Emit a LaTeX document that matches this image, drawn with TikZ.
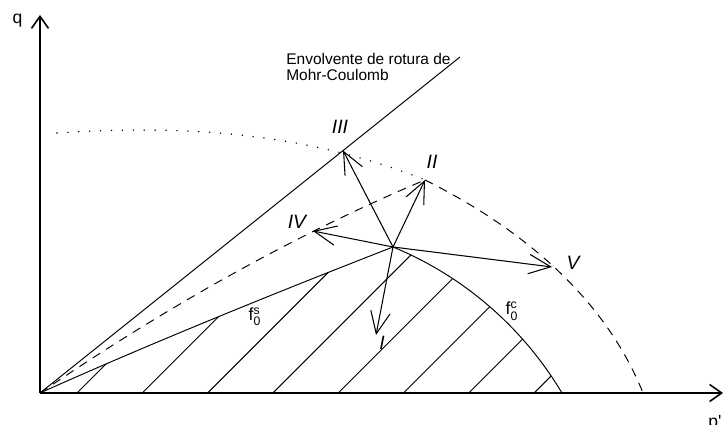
\documentclass[tikz,border=0pt]{standalone}
\usepackage{amsmath}
\usepackage{fontspec}
\setmainfont{Liberation Sans}
\usepackage{tikz}
\usetikzlibrary{arrows.meta, positioning}

\begin{document}
\begin{tikzpicture}[
    axis/.style={-{Straight Barb[length=2.4mm, width=3.4mm]}, line width=0.9pt},
    vec/.style={-{Straight Barb[length=4.4mm, width=3.9mm]}, line width=0.6pt},
    curve/.style={line width=0.55pt},
    dashline/.style={line width=0.55pt, dash pattern=on 5pt off 4pt},
    dotline/.style={line width=0.9pt, line cap=round, dash pattern=on 0.01pt off 6.2pt},
    num/.style={font=\fontsize{11}{12}\selectfont\itshape, inner sep=0pt},
    fname/.style={font=\fontsize{10}{11}\selectfont, inner sep=0pt},
]
\useasboundingbox (-0.8,-0.64) rectangle (13.76,7.86);

\coordinate (O) at (0,0);
\coordinate (qend) at (0,7.56);
\coordinate (pend) at (13.66,0);
\coordinate (mc) at (8.4,6.72);
\coordinate (C) at (7.06,2.92);
\coordinate (tI) at (6.72,1.16);
\coordinate (tII) at (7.70,4.26);
\coordinate (tIII) at (6.06,4.85);
\coordinate (tIV) at (5.46,3.24);
\coordinate (tV) at (10.24,2.52);
\coordinate (dotstart) at (0.34,5.20);
\coordinate (capend) at (12.06,0);

% hatched elastic region
\begin{scope}
\clip (O) .. controls (1.85,0.83) and (4.21,1.81) .. (C)
    arc[start angle=67.57, end angle=30.77, radius=7.075] -- cycle;
\foreach \k in {0,...,7}
    \draw[curve] (0.74+1.306*\k,0) -- ++(7,7);
\end{scope}

\draw[curve] (O) .. controls (1.85,0.83) and (4.21,1.81) .. (C)
    arc[start angle=67.57, end angle=30.77, radius=7.075];
\draw[curve] (O) -- (mc);
\draw[dashline] (O) .. controls (2.63,1.79) and (5.2,3.21) .. (tII);
\draw[dashline] (tII) .. controls (9.5,3.36) and (11.26,2.0) .. (capend);
\draw[dotline] (dotstart) .. controls (2.79,5.36) and (5.25,5.24) .. (tII);

\draw[vec] (C) -- (tI);
\draw[vec] (C) -- (tII);
\draw[vec] (C) -- (tIII);
\draw[vec] (C) -- (tIV);
\draw[vec] (C) -- (tV);

\draw[axis] (O) -- (qend);
\draw[axis] (O) -- (pend);

\node[num] (lI) at (6.84,1.0) {I};
\node[num] (lII) at (7.84,4.62) {II};
\node[num] (lIII) at (6.0,5.32) {III};
\node[num] (lIV) at (5.14,3.42) {IV};
\node[num] (lV) at (10.66,2.60) {V};
\node[fname] (fs) at (4.30,1.52) {f$^{\text{s}}_{\text{0}}$};
\node[fname] (fc) at (9.44,1.64) {f$^{\text{c}}_{\text{0}}$};
\node[font=\fontsize{8.8}{9.4}\selectfont, align=left, anchor=west, inner sep=0pt] (mclabel) at (4.92,6.52) {Envolvente de rotura de\\Mohr-Coulomb};
\node[font=\fontsize{10}{12}\selectfont, inner sep=0pt] (qlabel) at (-0.45,7.44) {q};
\node[font=\fontsize{10}{12}\selectfont, inner sep=0pt, anchor=north west] (plabel) at (13.36,-0.44) {p\textquotesingle};
\end{tikzpicture}
\end{document}
